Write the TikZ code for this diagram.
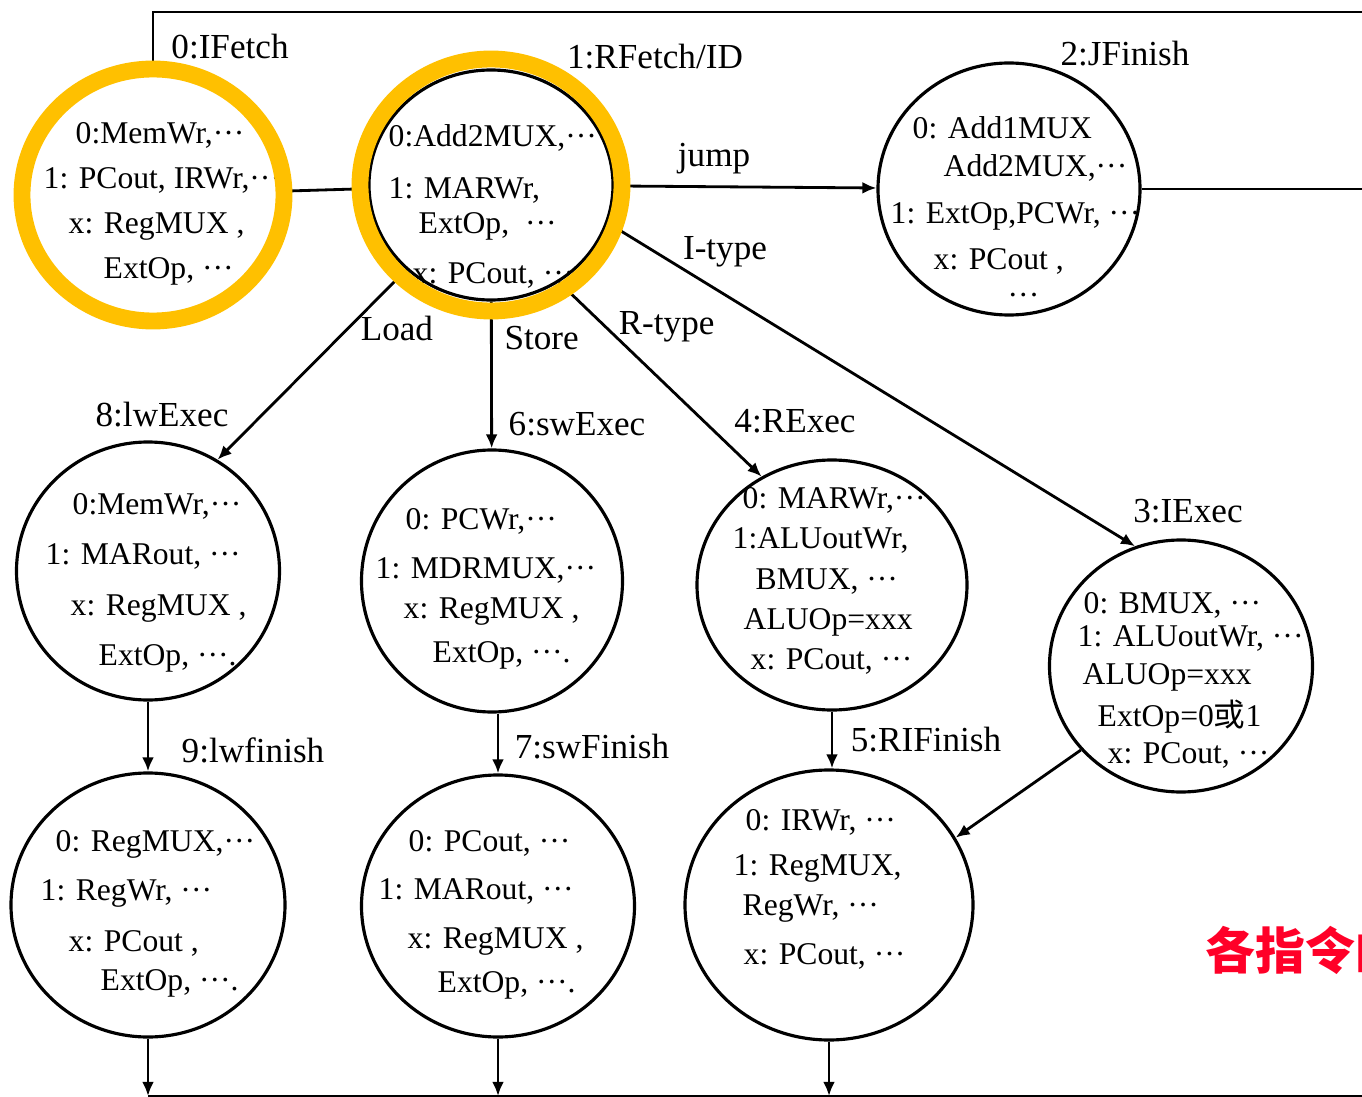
\documentclass[tikz,border=0pt]{standalone}
\usepackage{fontspec}
\setmainfont{Liberation Serif}
\newfontfamily\cjk{Noto Sans CJK SC}
\usepackage{tikz}
\usetikzlibrary{arrows,arrows.meta,shapes}
\definecolor{ringyellow}{RGB}{255,192,0}
\definecolor{notered}{RGB}{255,0,40}
\tikzstyle{stage}=[ellipse,draw,line width=0.9pt,inner sep=0pt]
\tikzstyle{ring}=[ellipse,draw=ringyellow,line width=4.8pt,minimum width=2.62cm,minimum height=2.52cm]
\tikzstyle{arrow}=[draw,line width=0.8pt,-{Latex[length=4pt,width=3.4pt]}]
\tikzstyle{wire}=[draw,line width=0.8pt]
\tikzstyle{tag}=[font=\fontsize{10}{12}\selectfont]
\tikzstyle{cond}=[font=\fontsize{10}{12}\selectfont]
\tikzstyle{alert}=[font=\cjk\bfseries\fontsize{14.2}{16}\selectfont,text=notered,inner sep=0pt]
\tikzset{info/.style={font=\fontsize{9}{#1}\selectfont,align=left,anchor=north west,inner sep=0pt}}
\newcommand{\dts}{···}

\begin{document}
\begin{tikzpicture}
    \useasboundingbox (0,0) rectangle (13.62,-10.97);
    \clip (0,0) rectangle (13.62,-10.97);
    \foreach \name/\x/\y/\w/\h in {ifetch/1.53/-1.95/2.62/2.52, rfetch/4.91/-1.85/2.44/2.30,
        jfinish/10.09/-1.89/2.62/2.52, lwexec/1.48/-5.71/2.63/2.58, swexec/4.92/-5.81/2.61/2.62,
        rexec/8.32/-5.85/2.70/2.50, iexec/11.81/-6.66/2.63/2.52, lwfinish/1.48/-9.05/2.74/2.64,
        swfinish/4.98/-9.06/2.73/2.62, rifinish/8.29/-9.05/2.88/2.70}
        \node[stage,minimum width=\w cm,minimum height=\h cm] (\name) at (\x,\y) {};
    \coordinate (loopend) at (13.62,-0.12);
    \coordinate (jout) at (13.62,-1.89);
    \coordinate (bottom) at (13.62,-10.96);

    \path[wire] (ifetch.north) |- (loopend);
    \path[wire] (ifetch) -- (rfetch);
    \path[wire] (jfinish.east) -- (jout);
    \path[arrow] (rfetch) -- node[cond,above,pos=0.38] (jumplbl) {jump} (jfinish);
    \path[arrow] (rfetch.-18) -- node[cond,pos=0.14,anchor=south west,inner sep=0pt] (ilbl) {I-type} (iexec.111);
    \path[arrow] (rfetch.305) -- node[cond,pos=0.23,right] (rlbl) {R-type} (rexec.123);
    \path[arrow] (rfetch) -- node[cond,pos=0.25,right] (slbl) {Store} (swexec);
    \path[arrow] (rfetch.225) -- node[cond,pos=0.31,right] (llbl) {Load} (lwexec.58);
    \path[arrow] (lwexec) -- (lwfinish);
    \path[arrow] (swexec.south -| swfinish) -- (swfinish);
    \path[arrow] (rexec.south) -- (rexec.south |- rifinish.north);
    \path[arrow] (iexec.220) -- (rifinish.28);
    \foreach \name in {lwfinish,swfinish,rifinish}
        \path[arrow] (\name.south) -- (\name.south |- bottom);
    \path[wire] (lwfinish.south |- bottom) -- (bottom);

    \node[tag] (ifetchtag) at (2.30,-0.47) {0:IFetch};
    \node[tag] (rfetchtag) at (6.55,-0.57) {1:RFetch/ID};
    \node[tag] (jfinishtag) at (11.25,-0.54) {2:JFinish};
    \node[tag] (lwexectag) at (1.62,-4.15) {8:lwExec};
    \node[tag] (swexectag) at (5.77,-4.24) {6:swExec};
    \node[tag] (rexectag) at (7.95,-4.21) {4:RExec};
    \node[tag] (iexectag) at (11.88,-5.11) {3:IExec};
    \node[tag] (lwfinishtag) at (2.53,-7.50) {9:lwfinish};
    \node[tag] (swfinishtag) at (5.92,-7.47) {7:swFinish};
    \node[tag] (rifinishtag) at (9.26,-7.40) {5:RIFinish};

    \node[info=12.8] (ifetchtxt) at (0.43,-1.22) {\hspace*{.32cm}0:MemWr,\dts\\ 1: PCout, IRWr,\dts\\
        \hspace*{.25cm}x: RegMUX ,\\ \hspace*{.60cm}ExtOp, \dts};
    \node[info=13.0] (rfetchtxt) at (3.88,-1.24) {0:Add2MUX,\dts\\[1.8pt] 1: MARWr,\\[-3pt]
        \hspace*{.30cm}ExtOp, \ \dts\\[1.2pt] \hspace*{.24cm}x: PCout, \dts};
    \node[info=11.9] (jfinishtxt) at (8.90,-1.16) {\hspace*{.22cm}0: Add1MUX\\[-1.1pt]
        \hspace*{.53cm}Add2MUX,\dts\\[1.5pt] 1: ExtOp,PCWr, \dts\\[1.2pt]
        \hspace*{.43cm}x: PCout ,\\[-1.6pt] \hspace*{1.17cm}\dts};
    \node[info=14.3] (lwexectxt) at (0.45,-4.93) {\hspace*{.27cm}0:MemWr,\dts\\ 1: MARout, \dts\\
        \hspace*{.25cm}x: RegMUX ,\\ \hspace*{.53cm}ExtOp, \dts.};
    \node[info=12.4] (swexectxt) at (3.75,-5.08) {\hspace*{.30cm}0: PCWr,\dts\\[1.5pt] 1: MDRMUX,\dts\\[-1pt]
        \hspace*{.28cm}x: RegMUX ,\\ \hspace*{.57cm}ExtOp, \dts.};
    \node[info=11.45] (rexectxt) at (7.32,-4.87) {\hspace*{.10cm}0: MARWr,\dts\\ 1:ALUoutWr,\\
        \hspace*{.23cm}BMUX, \dts\\ \hspace*{.11cm}ALUOp=xxx\\ \hspace*{.18cm}x: PCout, \dts};
    \node[info=10.7] (iexectxt) at (10.77,-5.92) {\hspace*{.06cm}0: BMUX, \dts\\[-1.3pt] 1: ALUoutWr, \dts\\
        \hspace*{.05cm}ALUOp=xxx\\[1.2pt] \hspace*{.20cm}ExtOp=0{\cjk 或}1\\ \hspace*{.30cm}x: PCout, \dts};
    \node[info=13.2] (lwfinishtxt) at (0.40,-8.30) {\hspace*{.15cm}0: RegMUX,\dts\\[.8pt] 1: RegWr, \dts\\[1.3pt]
        \hspace*{.28cm}x: PCout ,\\[-2.1pt] \hspace*{.60cm}ExtOp, \dts.};
    \node[info=13.7] (swfinishtxt) at (3.78,-8.30) {\hspace*{.30cm}0: PCout, \dts\\ 1: MARout, \dts\\
        \hspace*{.29cm}x: RegMUX ,\\[-1pt] \hspace*{.59cm}ExtOp, \dts.};
    \node[info=12.7] (rifinishtxt) at (7.33,-8.09) {\hspace*{.12cm}0: IRWr, \dts\\ 1: RegMUX,\\[-1.3pt]
        \hspace*{.09cm}RegWr, \dts\\[1.2pt] \hspace*{.10cm}x: PCout, \dts};

    \foreach \name in {ifetch,rfetch}
        \node[ring] (\name-ring) at (\name) {};
    \node[alert,anchor=west] (remark) at (12.05,-9.50) {各指令的};
\end{tikzpicture}
\end{document}
